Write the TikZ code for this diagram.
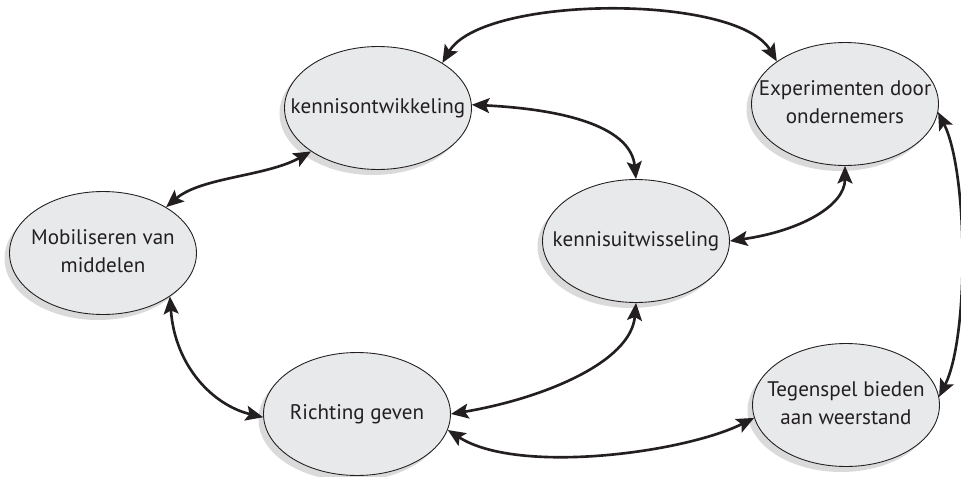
\documentclass[tikz,border=0pt]{standalone}
\usepackage{fontspec}
\setmainfont{PT Sans}
\usetikzlibrary{shapes.geometric,shadows,arrows.meta}

\definecolor{ink}{RGB}{35,31,32}
\definecolor{bubble}{RGB}{232,233,235}
\definecolor{shade}{RGB}{218,218,218}

% centred label whose width does not enlarge the ellipse
\newcommand{\bubbletext}[1]{\makebox[0pt]{\begin{tabular}{@{}c@{}}#1\end{tabular}}}

\tikzset{
  bubble/.style={
    ellipse, draw=ink, line width=0.5pt, fill=bubble, inner sep=0pt,
    minimum width=3.74cm, minimum height=2.46cm, text=ink,
    font=\fontsize{12}{15.5}\selectfont,
    drop shadow={shadow xshift=-0.1cm, shadow yshift=-0.11cm,
                 fill=shade, opacity=1}
  },
  link/.style={
    draw=ink, line width=1.5pt,
    {Stealth[length=10pt,width=8.5pt,inset=2pt]}-{Stealth[length=10pt,width=8.5pt,inset=2pt]}
  }
}

\begin{document}
\begin{tikzpicture}[x=0.02cm, y=-0.02cm]
  \useasboundingbox (0,0) rectangle (961,477);

  % process nodes
  \node[bubble] (kont) at (378,108) {\bubbletext{kennisontwikkeling}};
  \node[bubble] (expo) at (845,104) {\bubbletext{Experimenten door\\ondernemers}};
  \node[bubble] (mobi) at (103,253) {\bubbletext{Mobiliseren van\\middelen}};
  \node[bubble] (kuit) at (636,241) {\bubbletext{kennisuitwisseling}};
  \node[bubble] (rich) at (357,414) {\bubbletext{Richting geven}};
  \node[bubble] (tege) at (846,405) {\bubbletext{Tegenspel bieden\\aan weerstand}};

  % two-way interactions
  \draw[link] (kont.35) .. controls +(40,-68) and +(-40,-68) .. (expo.148);
  \draw[link] (kont.2) .. controls +(100,5) and +(-5,-50) .. (kuit.90);
  \draw[link] (kont.213) .. controls +(-45,25) and +(35,-30) .. (mobi.36);
  \draw[link] (mobi.327) .. controls +(5,70) and +(-50,-12) .. (rich.182);
  \draw[link] (rich.0) .. controls +(90,-15) and +(-5,60) .. (kuit.270);
  \draw[link] (rich.350) .. controls +(70,45) and +(-70,35) .. (tege.188);
  \draw[link] (expo.355) .. controls +(30,60) and +(30,-60) .. (tege.5);
  \draw[link] (expo.270) .. controls +(0,40) and +(70,-10) .. (kuit.0);
\end{tikzpicture}
\end{document}
